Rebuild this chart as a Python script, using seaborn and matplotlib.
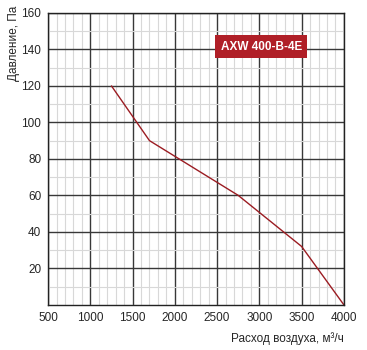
import pandas as pd
import matplotlib.pyplot as plt
import seaborn as sns
from matplotlib.ticker import MultipleLocator

sns.set_style("white")
plt.rcParams["font.family"] = ["Liberation Sans", "DejaVu Sans"]

# curve
airflow = [1250, 1700, 2750, 3500, 4000]
pressure = [120, 90, 60, 32, 0]
model = "AXW 400-B-4E"
xticks = [500, 1000, 1500, 2000, 2500, 3000, 3500, 4000]
yticks = [20, 40, 60, 80, 100, 120, 140, 160]

data = pd.DataFrame({"q": airflow, "p": pressure})

fig = plt.figure(figsize=(3.67, 3.5), dpi=100)
ax = fig.add_axes([0.131, 0.129, 0.806, 0.834])

ax.set_xlim(500, 4000)
ax.set_ylim(0, 160)
ax.xaxis.set_minor_locator(MultipleLocator(100))
ax.yaxis.set_minor_locator(MultipleLocator(10))
ax.grid(which="minor", color="#d8d8d8", linewidth=0.8)
ax.grid(which="major", color="#383838", linewidth=1.0)
ax.set_axisbelow(True)

sns.lineplot(data=data, x="q", y="p", ax=ax, color="#9b1c22", linewidth=1.0)

ax.set_xticks(xticks)
ax.set_yticks(yticks)
ax.tick_params(which="both", length=0, labelsize=8.5, pad=5)
for s in ax.spines.values():
    s.set_color("#222222")
    s.set_linewidth(1.0)

ax.set_xlabel("Расход воздуха, м³/ч", fontsize=8.5, ha="right", x=1.0, labelpad=6)
ax.set_ylabel("Давление, Па", fontsize=8.5, ha="right", y=1.025, labelpad=1)

ax.text(3024, 141.5, model, color="white", fontsize=8.5, fontweight="bold",
        ha="center", va="center",
        bbox=dict(boxstyle="square,pad=0.45", facecolor="#b01f27", edgecolor="none"))

fig.savefig("out.png", dpi=100)
